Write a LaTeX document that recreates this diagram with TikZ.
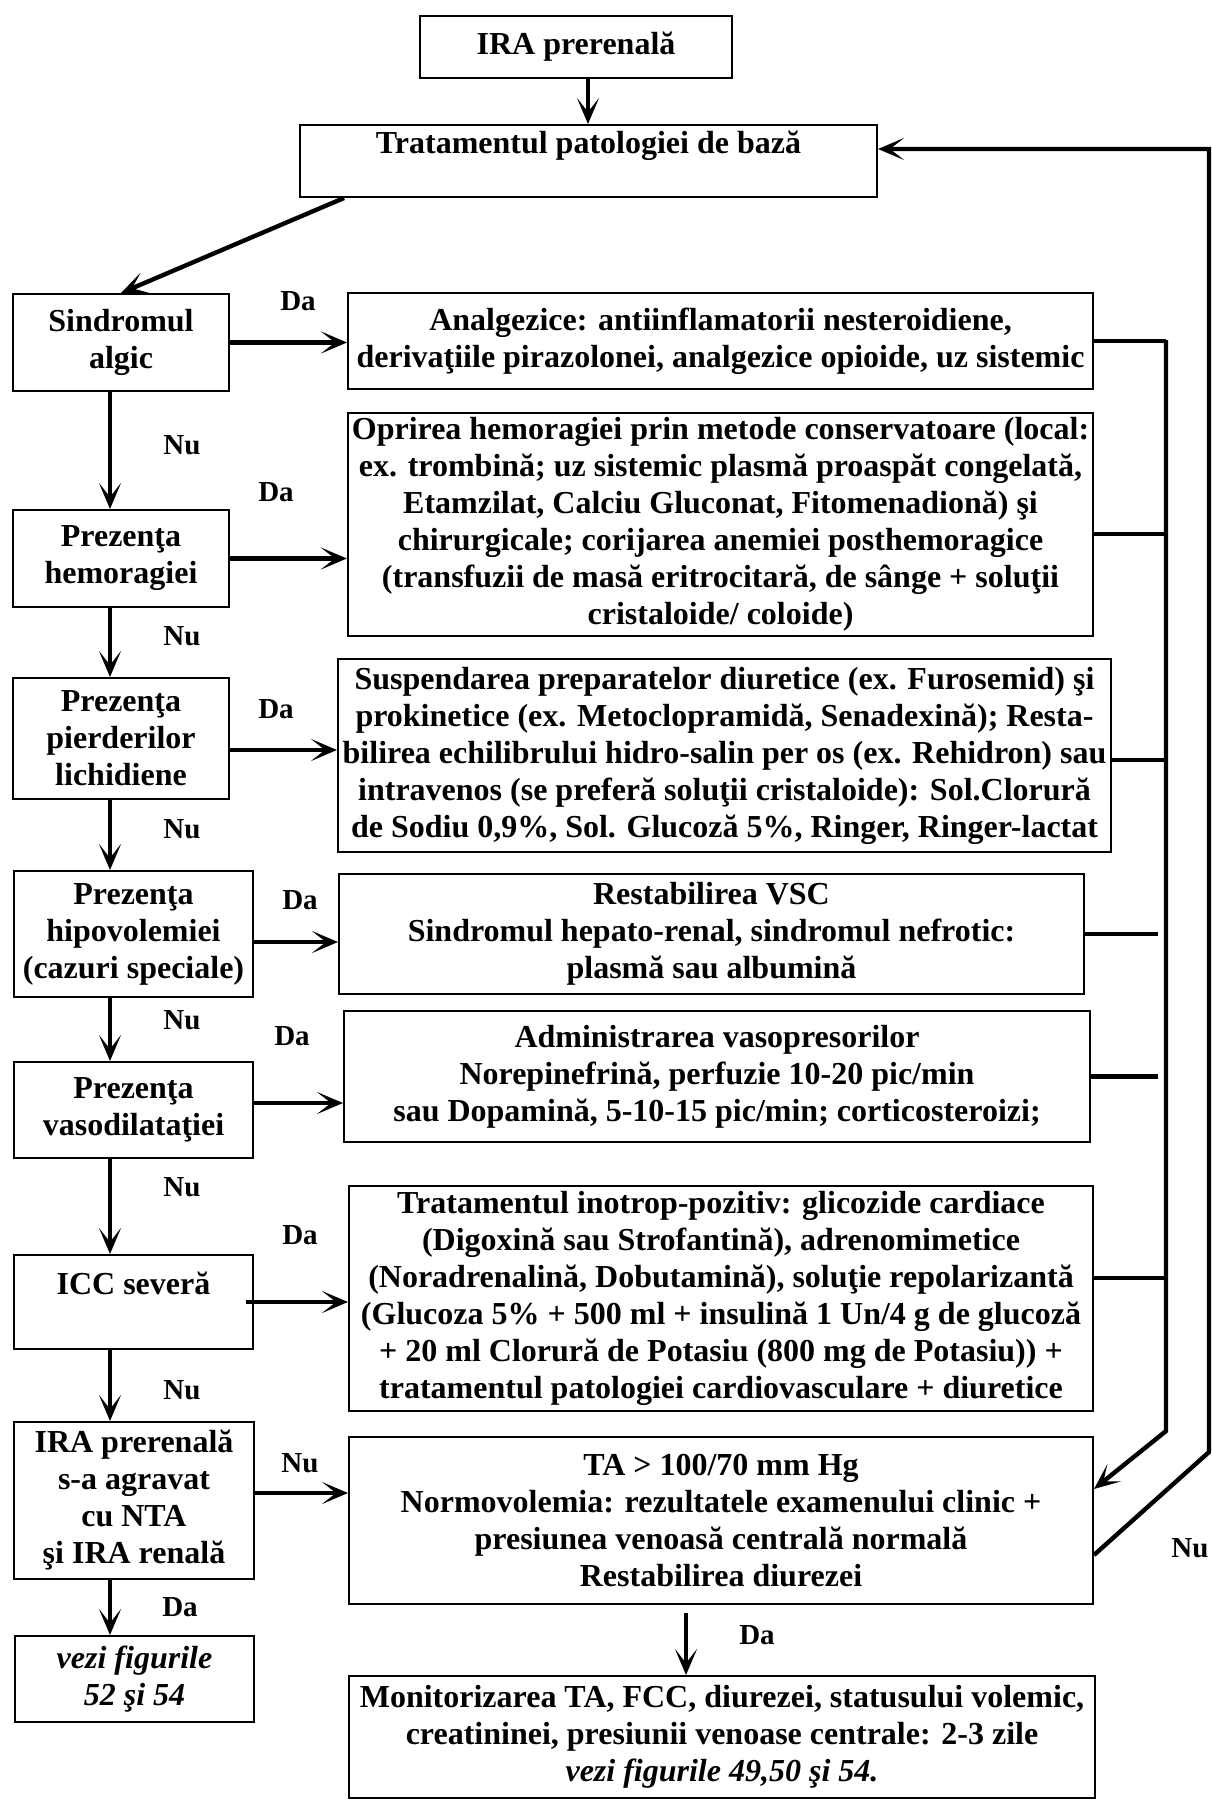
\documentclass[tikz,border=0pt]{standalone}
\usepackage{fontspec}
\setmainfont{Liberation Serif}
\usetikzlibrary{arrows.meta}

\begin{document}
\begin{tikzpicture}[
  x=0.5pt, y=-0.5pt,
  cell/.style={draw, line width=1pt, inner sep=2pt, align=center, font=\bfseries\fontsize{16}{18.5}\selectfont},
  lbl/.style={font=\bfseries\fontsize{14.5}{17}\selectfont},
  link/.style={line width=2.2pt, -{Stealth[length=13pt,width=11pt,inset=7pt]}},
  wire/.style={line width=2.2pt}
]
\useasboundingbox (0,0) rectangle (1211,1803);

% top of the chart
\node[cell, minimum width=156pt, minimum height=31pt] (ira) at (576,47) {IRA prerenală};
\node[cell, minimum width=288.5pt, minimum height=36pt] (trat) at (588.5,161) {Tratamentul patologiei de bază\\ \mbox{}};

% left column: questions
\node[cell, minimum width=108pt, minimum height=48.5pt] (sind) at (121,342.5) {Sindromul\\ algic};
\node[cell, minimum width=108pt, minimum height=48.5pt] (hem) at (121,558.5) {Prezenţa\\ hemoragiei};
\node[cell, minimum width=108pt, minimum height=60.5pt] (lich) at (121,738.5) {Prezenţa\\ pierderilor\\ lichidiene};
\node[cell, minimum width=119.5pt, minimum height=63pt] (hipo) at (133.5,934) {Prezenţa\\ hipovolemiei\\ (cazuri speciale)};
\node[cell, minimum width=119.5pt, minimum height=48pt] (vaso) at (133.5,1110) {Prezenţa\\ vasodilataţiei};
\node[cell, minimum width=119.5pt, minimum height=47pt] (icc) at (133.5,1302) {ICC severă\\ \mbox{}};
\node[cell, minimum width=120pt, minimum height=78.5pt] (agr) at (134,1500.5) {IRA prerenală\\ s-a agravat\\ cu NTA\\ şi IRA renală};
\node[cell, minimum width=119.5pt, minimum height=43pt] (vezi) at (134.5,1679) {\itshape vezi figurile\\ \itshape 52 şi 54};

% right column: treatment
\node[cell, minimum width=372.5pt, minimum height=48pt] (anal) at (720.5,341) {Analgezice: antiinflamatorii nesteroidiene,\\ derivaţiile pirazolonei, analgezice opioide, uz sistemic};
\node[cell, minimum width=372.5pt, minimum height=111.5pt] (opr) at (720.5,524.5) {Oprirea hemoragiei prin metode conservatoare (local:\\ ex. trombină; uz sistemic plasmă proaspăt congelată,\\ Etamzilat, Calciu Gluconat, Fitomenadionă) şi\\ chirurgicale; corijarea anemiei posthemoragice\\ (transfuzii de masă eritrocitară, de sânge + soluţii\\ cristaloide/ coloide)};
\node[cell, minimum width=386.5pt, minimum height=96.5pt] (susp) at (724.5,755.5) {Suspendarea preparatelor diuretice (ex. Furosemid) şi\\ prokinetice (ex. Metoclopramidă, Senadexină); Resta-\\ bilirea echilibrului hidro-salin per os (ex. Rehidron) sau\\ intravenos (se preferă soluţii cristaloide): Sol.Clorură\\ de Sodiu 0,9\%, Sol. Glucoză 5\%, Ringer, Ringer-lactat};
\node[cell, minimum width=372.5pt, minimum height=60pt] (vsc) at (711.5,934) {Restabilirea VSC\\ Sindromul hepato-renal, sindromul nefrotic:\\ plasmă sau albumină};
\node[cell, minimum width=373pt, minimum height=65.5pt] (vasop) at (717,1076.5) {Administrarea vasopresorilor\\ Norepinefrină, perfuzie 10-20 pic/min\\ sau Dopamină, 5-10-15 pic/min; corticosteroizi;};
\node[cell, minimum width=372pt, minimum height=112.5pt] (inot) at (721,1298.5) {Tratamentul inotrop-pozitiv: glicozide cardiace\\ (Digoxină sau Strofantină), adrenomimetice\\ (Noradrenalină, Dobutamină), soluţie repolarizantă\\ (Glucoza 5\% + 500 ml + insulină 1 Un/4 g de glucoză\\ + 20 ml Clorură de Potasiu (800 mg de Potasiu)) +\\ tratamentul patologiei cardiovasculare + diuretice};
\node[cell, minimum width=372pt, minimum height=83.5pt] (ta) at (721,1520.5) {TA > 100/70 mm Hg\\ Normovolemia: rezultatele examenului clinic +\\ presiunea venoasă centrală normală\\ Restabilirea diurezei};
\node[cell, minimum width=373pt, minimum height=61pt] (mon) at (722,1737) {Monitorizarea TA, FCC, diurezei, statusului volemic,\\ creatininei, presiunii venoase centrale: 2-3 zile\\ \itshape vezi figurile 49,50 şi 54.};

% helper points
\coordinate (lane) at (110,0);
\coordinate (bustop) at (1166,340);
\coordinate (busbot) at (1166,1431);
\coordinate (loopbot) at (1209,1452);
\coordinate (tratin) at ([yshift=6pt]trat.east);

% main flow
\draw[link] ([xshift=6pt]ira.south) -- ([xshift=6pt]ira.south |- trat.north);
\draw[link] ([xshift=22.5pt]trat.south west) -- (sind.north);
\draw[link] (sind.south -| lane) -- (hem.north -| lane);
\draw[link] (hem.south -| lane) -- (lich.north -| lane);
\draw[link] (lich.south -| lane) -- (hipo.north -| lane);
\draw[link] (hipo.south -| lane) -- (vaso.north -| lane);
\draw[link] (vaso.south -| lane) -- (icc.north -| lane);
\draw[link] (icc.south -| lane) -- (agr.north -| lane);
\draw[link] (agr.south -| lane) -- (vezi.north -| lane);

% Da branches
\draw[link] (sind.east) -- (sind.east -| anal.west);
\draw[link] (hem.east) -- (hem.east -| opr.west);
\draw[link] ([yshift=-5.75pt]lich.east) -- ([yshift=-5.75pt]lich.east -| susp.west);
\draw[link] ([yshift=-4pt]hipo.east) -- ([yshift=-4pt]hipo.east -| vsc.west);
\draw[link] ([yshift=3.5pt]vaso.east) -- ([yshift=3.5pt]vaso.east -| vasop.west);
\draw[link] ([xshift=-4pt]icc.east) -- (icc.east -| inot.west);
\draw[link] ([yshift=3.75pt]agr.east) -- ([yshift=3.75pt]agr.east -| ta.west);
\draw[link] ([xshift=-17.5pt,yshift=-4pt]ta.south) -- ([xshift=-17.5pt]ta.south |- mon.north);

% collecting line on the right
\draw[wire] (anal.east) -- (anal.east -| bustop);
\draw[wire] ([yshift=-4.75pt]opr.east) -- ([yshift=-4.75pt]opr.east -| bustop);
\draw[wire] ([yshift=-2.25pt]susp.east) -- ([yshift=-2.25pt]susp.east -| bustop);
\draw[wire] (vsc.east) -- ([xshift=-4pt]vsc.east -| bustop);
\draw[wire] (vasop.east) -- ([xshift=-4pt]vasop.east -| bustop);
\draw[wire] ([yshift=10.25pt]inot.east) -- ([yshift=10.25pt]inot.east -| bustop);
\draw[link] (bustop) -- (busbot) -- ([yshift=15.75pt]ta.east);
\draw[link] ([yshift=25pt]ta.south east) -- (loopbot) -- (loopbot |- tratin) -- (tratin);

% labels
\node[lbl] (l1) at (298,301) {Da};
\node[lbl] (l2) at (182,445) {Nu};
\node[lbl] (l3) at (276,492) {Da};
\node[lbl] (l4) at (182,636) {Nu};
\node[lbl] (l5) at (276,709) {Da};
\node[lbl] (l6) at (182,829) {Nu};
\node[lbl] (l7) at (300,900) {Da};
\node[lbl] (l8) at (182,1020) {Nu};
\node[lbl] (l9) at (292,1036) {Da};
\node[lbl] (l10) at (182,1187) {Nu};
\node[lbl] (l11) at (300,1235) {Da};
\node[lbl] (l12) at (182,1390) {Nu};
\node[lbl] (l13) at (300,1463) {Nu};
\node[lbl] (l14) at (180,1607) {Da};
\node[lbl] (l15) at (757,1635) {Da};
\node[lbl] (l16) at (1190,1548) {Nu};
\end{tikzpicture}
\end{document}
